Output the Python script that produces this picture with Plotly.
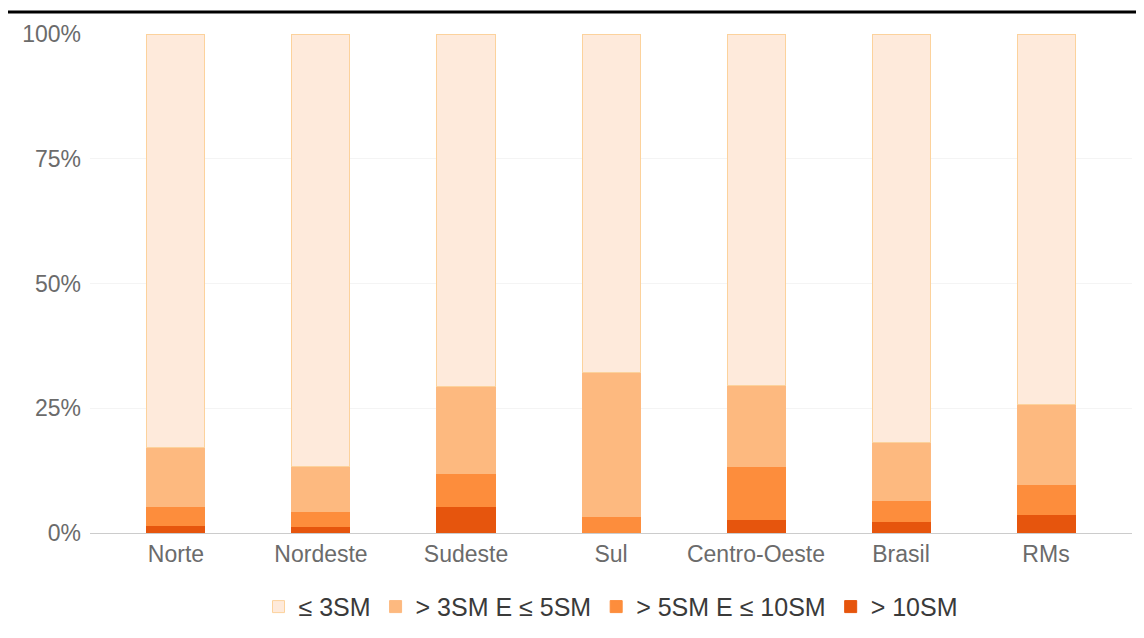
import plotly.graph_objects as go

regioes = ["Norte", "Nordeste", "Sudeste", "Sul", "Centro-Oeste", "Brasil", "RMs"]

# shares (%) by income band
ate_3sm = [82.8, 86.7, 70.7, 67.9, 70.5, 81.8, 74.2]
de_3_a_5sm = [11.8, 8.9, 17.3, 28.7, 16.1, 11.6, 16.0]
de_5_a_10sm = [3.8, 3.1, 6.7, 3.2, 10.7, 4.3, 6.0]
acima_10sm = [1.6, 1.3, 5.3, 0.2, 2.7, 2.3, 3.8]

series = [
    ("> 10SM", acima_10sm, "#e6550d", "#e6550d"),
    ("> 5SM E ≤ 10SM", de_5_a_10sm, "#fd8d3c", "#fd8d3c"),
    ("> 3SM E ≤ 5SM", de_3_a_5sm, "#fdb97f", "#fdb97f"),
    ("≤ 3SM", ate_3sm, "#feeadb", "#fcd29c"),
]

fig = go.Figure()
for name, vals, color, line in series:
    fig.add_trace(
        go.Bar(
            x=regioes,
            y=vals,
            name=name,
            marker={"color": color, "line": {"color": line, "width": 1}},
            width=0.4,
        )
    )

# page body adds an 8px offset, so margins are shifted to compensate
fig.update_layout(
    barmode="stack",
    width=1144,
    height=638,
    margin={"l": 82, "r": 20, "t": 26, "b": 113},
    plot_bgcolor="white",
    paper_bgcolor="white",
    font={"family": "Liberation Sans, Arial, sans-serif", "size": 23, "color": "#6b6b6b"},
    showlegend=True,
    legend={
        "orientation": "h",
        "traceorder": "reversed",
        "x": 0.5,
        "xanchor": "center",
        "y": -0.148,
        "yanchor": "middle",
        "font": {"size": 25, "color": "#3a3a3a"},
    },
    xaxis={
        "range": [-0.593, 6.593],
        "showgrid": False,
        "showline": True,
        "linecolor": "#cccccc",
        "ticks": "",
        "tickfont": {"size": 23, "color": "#6b6b6b"},
    },
    yaxis={
        "range": [0, 100],
        "tickvals": [0, 25, 50, 75, 100],
        "ticktext": ["0%", "25%", "50%", "75%", "100%"],
        "showgrid": True,
        "gridcolor": "#f4f4f4",
        "zeroline": False,
        "ticklabelstandoff": 8,
        "tickfont": {"size": 23, "color": "#6b6b6b"},
    },
    shapes=[
        {
            "type": "line",
            "xref": "paper",
            "yref": "paper",
            "x0": -0.1,
            "x1": 1.05,
            "y0": 1.044,
            "y1": 1.044,
            "line": {"color": "black", "width": 3},
        }
    ],
)

fig.write_html("out.html")
